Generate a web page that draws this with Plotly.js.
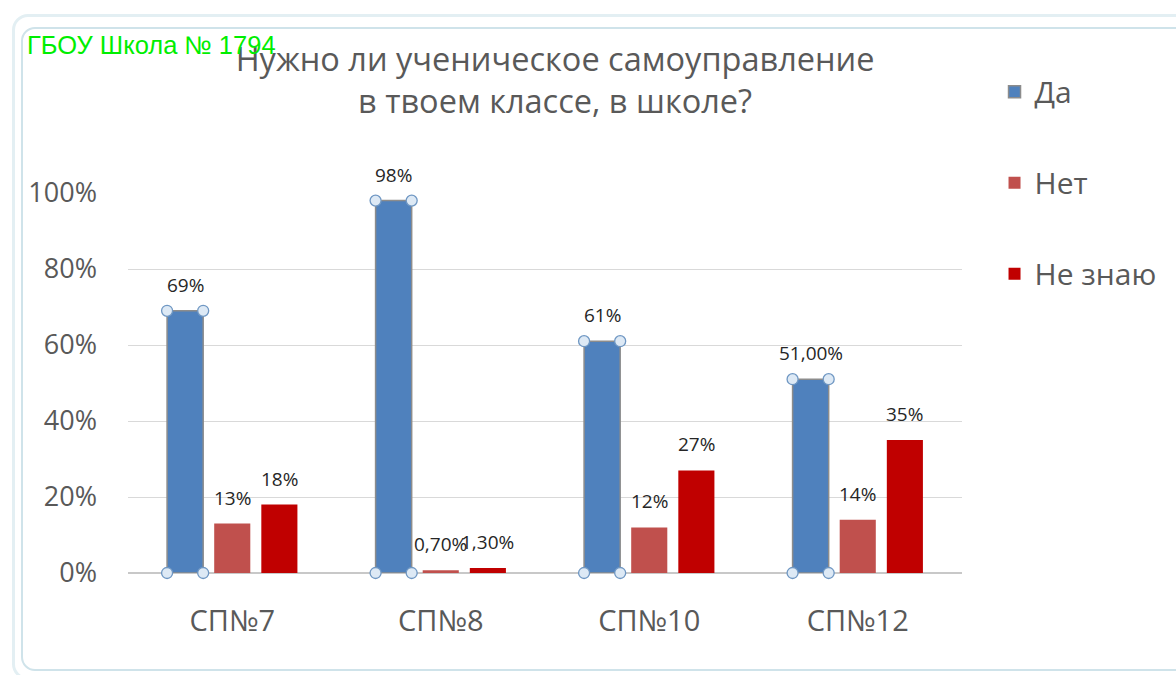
<!DOCTYPE html>
<html>
<head>
<meta charset="utf-8">
<script src="https://cdn.plot.ly/plotly-3.0.1.min.js"></script>
<style>
html,body{margin:0;padding:0;background:#fff;}
#chart{width:1176px;height:675px;}
#frame{position:absolute;left:21px;top:27px;width:1170px;height:640px;border:2px solid #cfe3ea;border-radius:14px;pointer-events:none;}
#outer{position:absolute;left:12px;top:14px;width:1180px;height:660px;border:3px solid #e3eff3;border-radius:16px;pointer-events:none;}
</style>
</head>
<body>
<div id="chart"></div>
<div id="outer"></div>
<div id="frame"></div>
<script>
const categories = ["СП№7", "СП№8", "СП№10", "СП№12"];
const seriesNames = ["Да", "Нет", "Не знаю"];
const yesValues = [0.69, 0.98, 0.61, 0.51];
const noValues = [0.13, 0.007, 0.12, 0.14];
const dontKnowValues = [0.18, 0.013, 0.27, 0.35];
const yesLabels = ["69%", "98%", "61%", "51,00%"];
const noLabels = ["13%", "0,70%", "12%", "14%"];
const dontKnowLabels = ["18%", "1,30%", "27%", "35%"];
const tickVals = [0, 0.2, 0.4, 0.6, 0.8, 1.0];
const tickText = ["0%", "20%", "40%", "60%", "80%", "100%"];

const colors = ["#4F81BD", "#C0504D", "#C00000"];
const FONT = "Open Sans, Liberation Sans, sans-serif";
const BARGAP = 0.322, BARGROUPGAP = 0.234, NSERIES = 3;
const slot = (1 - BARGAP) / NSERIES;
const barW = slot * (1 - BARGROUPGAP);
const xIdx = categories.map((c, i) => i);

const allVals = [yesValues, noValues, dontKnowValues];
const allLabels = [yesLabels, noLabels, dontKnowLabels];

const data = allVals.map((vals, s) => ({
  type: "bar", name: seriesNames[s], x: xIdx, y: vals,
  marker: {color: colors[s], line: {color: s === 0 ? "#8c8c8c" : colors[s], width: s === 0 ? 1.5 : 0}},
  legendgroup: "g" + s, hoverinfo: "y"
}));

// selection handles on the first series (corners of each bar)
const hx = [], hy = [];
yesValues.forEach((v, i) => {
  const c = i + (0 - (NSERIES - 1) / 2) * slot;
  [c - barW / 2, c + barW / 2].forEach(xx => {
    hx.push(xx, xx); hy.push(0, v);
  });
});
data.push({
  type: "scatter", mode: "markers", x: hx, y: hy, showlegend: false, cliponaxis: false,
  marker: {symbol: "circle", size: 11, color: "#dde9f5", line: {color: "#6f97c3", width: 1.3}},
  hoverinfo: "skip"
});

const annotations = [];
allVals.forEach((vals, s) => {
  vals.forEach((v, i) => {
    annotations.push({
      x: i + (s - (NSERIES - 1) / 2) * slot, y: v, xref: "x", yref: "y",
      text: allLabels[s][i], showarrow: false, yanchor: "middle", xanchor: "center", yshift: 26,
      font: {family: FONT, size: 19, color: "#262626"}
    });
  });
});
annotations.push({
  text: "ГБОУ Школа № 1794", xref: "paper", yref: "paper",
  x: -0.1235, y: 1.39, xanchor: "left", yanchor: "middle", showarrow: false,
  font: {family: "Liberation Sans, Arial, sans-serif", size: 25.5, color: "#00ee00"}
});

const layout = {
  width: 1176, height: 675,
  margin: {l: 128, r: 214, t: 193, b: 102},
  paper_bgcolor: "#ffffff", plot_bgcolor: "#ffffff",
  barmode: "group", bargap: BARGAP, bargroupgap: BARGROUPGAP,
  font: {family: FONT, color: "#595959"},
  title: {
    text: "Нужно ли ученическое самоуправление<br>в твоем классе, в школе?",
    font: {family: FONT, size: 32.5, color: "#595959"},
    x: 0.472, xanchor: "center", xref: "container",
    y: 0.895, yanchor: "top", yref: "container"
  },
  xaxis: {
    range: [-0.5, categories.length - 0.5],
    tickvals: xIdx, ticktext: categories,
    showgrid: false, zeroline: false, showline: false, ticks: "",
    tickfont: {size: 29, color: "#595959", family: FONT},
    ticklabelstandoff: 28
  },
  yaxis: {
    range: [0, 1.0], tickvals: tickVals, ticktext: tickText,
    showgrid: true, gridcolor: "#d9d9d9", gridwidth: 1,
    zeroline: true, zerolinecolor: "#c8c8c8", zerolinewidth: 2,
    showline: false, ticks: "",
    tickfont: {size: 27, color: "#595959", family: FONT},
    ticklabelstandoff: 30
  },
  legend: {
    x: 1.039, xanchor: "left", y: 1.335, yanchor: "top",
    font: {size: 30, color: "#595959", family: FONT},
    tracegroupgap: 49, traceorder: "grouped",
    bgcolor: "rgba(0,0,0,0)"
  },
  annotations: annotations,
  showlegend: true
};

Plotly.newPlot("chart", data, layout, {displayModeBar: false, staticPlot: true});
</script>
</body>
</html>
